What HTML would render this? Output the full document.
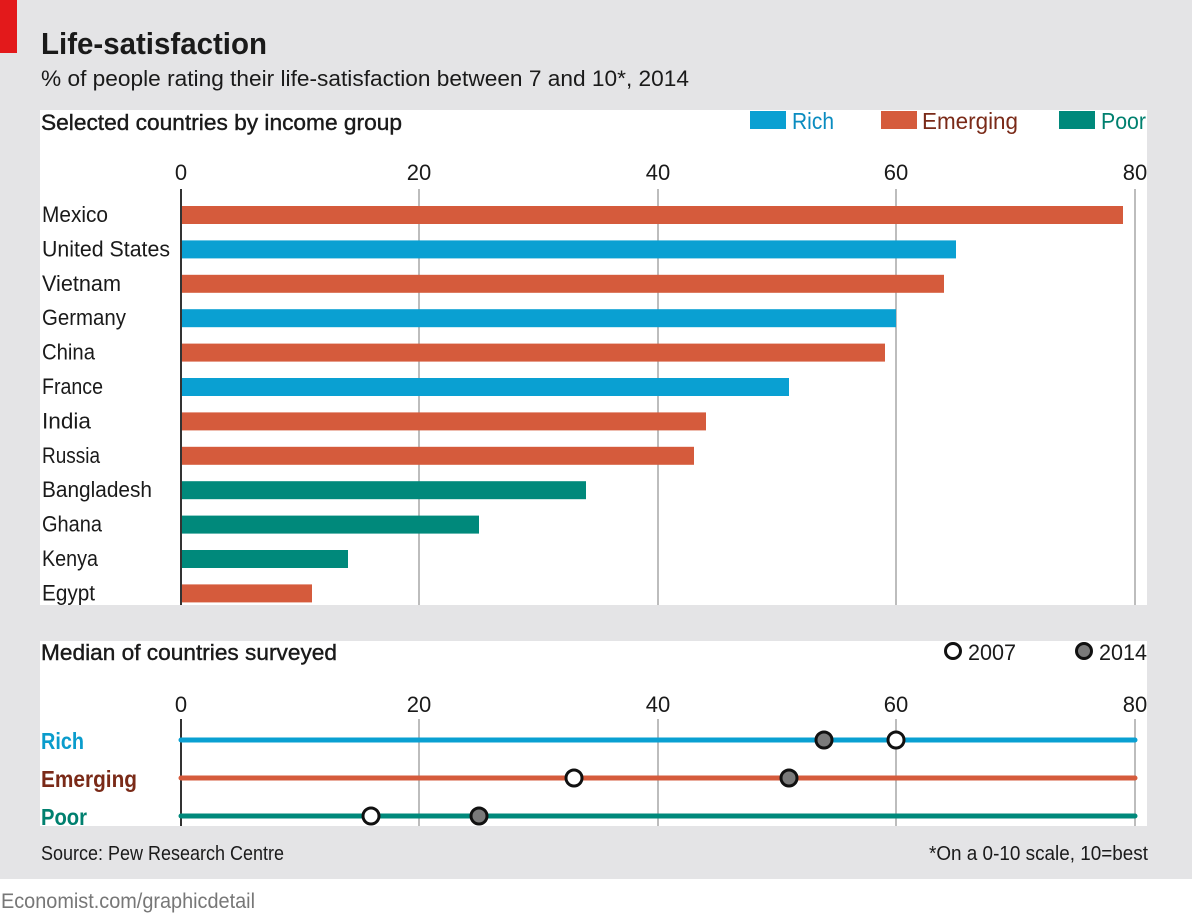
<!DOCTYPE html>
<html><head><meta charset="utf-8"><style>
html,body{margin:0;padding:0;background:#fff;}
svg{display:block;font-family:"Liberation Sans",sans-serif;}
</style></head><body>
<svg width="1192" height="916" viewBox="0 0 1192 916" xmlns="http://www.w3.org/2000/svg">
<rect x="0" y="0" width="1192" height="879" fill="#e4e4e6"/>
<rect x="0" y="0" width="17" height="53" fill="#e3191b"/>
<text x="41" y="54" font-size="31" font-weight="bold" fill="#1a1a1a" textLength="226" lengthAdjust="spacingAndGlyphs">Life-satisfaction</text>
<text x="41" y="86" font-size="22" fill="#1a1a1a" textLength="648" lengthAdjust="spacingAndGlyphs">% of people rating their life-satisfaction between 7 and 10*, 2014</text>
<rect x="40" y="110" width="1107" height="495" fill="#fff"/>
<text x="41" y="130" font-size="22" fill="#1a1a1a" stroke="#1a1a1a" stroke-width="0.4" textLength="361" lengthAdjust="spacingAndGlyphs">Selected countries by income group</text>
<rect x="750" y="111" width="36" height="18" fill="#0aa0d2"/>
<text x="792" y="129" font-size="23" fill="#0a8cc0" textLength="42" lengthAdjust="spacingAndGlyphs">Rich</text>
<rect x="881" y="111" width="36" height="18" fill="#d55b3c"/>
<text x="922" y="129" font-size="23" fill="#7a2a18" textLength="96" lengthAdjust="spacingAndGlyphs">Emerging</text>
<rect x="1059" y="111" width="36" height="18" fill="#00897b"/>
<text x="1101" y="129" font-size="23" fill="#00806f" textLength="45" lengthAdjust="spacingAndGlyphs">Poor</text>
<g font-size="22" fill="#1a1a1a" text-anchor="middle">
<text x="181" y="180">0</text><text x="419" y="180">20</text><text x="658" y="180">40</text><text x="896" y="180">60</text><text x="1135" y="180">80</text>
</g>
<g stroke="#bdbdbd" stroke-width="2">
<line x1="419" y1="189" x2="419" y2="605"/><line x1="658" y1="189" x2="658" y2="605"/><line x1="896" y1="189" x2="896" y2="605"/><line x1="1135" y1="189" x2="1135" y2="605"/>
</g>
<g>
<rect x="181" y="206" width="942" height="18" fill="#d55b3c"/>
<rect x="181" y="240.4" width="775" height="18" fill="#0aa0d2"/>
<rect x="181" y="274.8" width="763" height="18" fill="#d55b3c"/>
<rect x="181" y="309.2" width="715" height="18" fill="#0aa0d2"/>
<rect x="181" y="343.6" width="704" height="18" fill="#d55b3c"/>
<rect x="181" y="378" width="608" height="18" fill="#0aa0d2"/>
<rect x="181" y="412.4" width="525" height="18" fill="#d55b3c"/>
<rect x="181" y="446.8" width="513" height="18" fill="#d55b3c"/>
<rect x="181" y="481.2" width="405" height="18" fill="#00897b"/>
<rect x="181" y="515.6" width="298" height="18" fill="#00897b"/>
<rect x="181" y="550" width="167" height="18" fill="#00897b"/>
<rect x="181" y="584.4" width="131" height="18" fill="#d55b3c"/>
</g>
<line x1="181" y1="189" x2="181" y2="605" stroke="#333" stroke-width="2"/>
<g font-size="22" fill="#1a1a1a">
<text x="42" y="222" textLength="66" lengthAdjust="spacingAndGlyphs">Mexico</text>
<text x="42" y="256.4" textLength="128" lengthAdjust="spacingAndGlyphs">United States</text>
<text x="42" y="290.8" textLength="79" lengthAdjust="spacingAndGlyphs">Vietnam</text>
<text x="42" y="325.2" textLength="84" lengthAdjust="spacingAndGlyphs">Germany</text>
<text x="42" y="359.6" textLength="53" lengthAdjust="spacingAndGlyphs">China</text>
<text x="42" y="394" textLength="61" lengthAdjust="spacingAndGlyphs">France</text>
<text x="42" y="428.4" textLength="49" lengthAdjust="spacingAndGlyphs">India</text>
<text x="42" y="462.8" textLength="58" lengthAdjust="spacingAndGlyphs">Russia</text>
<text x="42" y="497.2" textLength="110" lengthAdjust="spacingAndGlyphs">Bangladesh</text>
<text x="42" y="531.6" textLength="60" lengthAdjust="spacingAndGlyphs">Ghana</text>
<text x="42" y="566" textLength="56" lengthAdjust="spacingAndGlyphs">Kenya</text>
<text x="42" y="600.4" textLength="53" lengthAdjust="spacingAndGlyphs">Egypt</text>
</g>
<rect x="40" y="641" width="1107" height="185" fill="#fff"/>
<text x="41" y="660" font-size="22" fill="#1a1a1a" stroke="#1a1a1a" stroke-width="0.4" textLength="296" lengthAdjust="spacingAndGlyphs">Median of countries surveyed</text>
<circle cx="953" cy="651" r="7.5" fill="#fff" stroke="#111" stroke-width="3"/>
<text x="968" y="660" font-size="22" fill="#1a1a1a" textLength="48" lengthAdjust="spacingAndGlyphs">2007</text>
<circle cx="1084" cy="651" r="7.5" fill="#7a7a7a" stroke="#111" stroke-width="3"/>
<text x="1099" y="660" font-size="22" fill="#1a1a1a" textLength="48" lengthAdjust="spacingAndGlyphs">2014</text>
<g font-size="22" fill="#1a1a1a" text-anchor="middle">
<text x="181" y="712">0</text><text x="419" y="712">20</text><text x="658" y="712">40</text><text x="896" y="712">60</text><text x="1135" y="712">80</text>
</g>
<g stroke="#bdbdbd" stroke-width="2">
<line x1="419" y1="719" x2="419" y2="826"/><line x1="658" y1="719" x2="658" y2="826"/><line x1="896" y1="719" x2="896" y2="826"/><line x1="1135" y1="719" x2="1135" y2="826"/>
</g>
<line x1="181" y1="719" x2="181" y2="826" stroke="#333" stroke-width="2"/>
<g stroke-width="5" stroke-linecap="round">
<line x1="181" y1="740" x2="1135" y2="740" stroke="#0aa0d2"/>
<line x1="181" y1="778" x2="1135" y2="778" stroke="#d55b3c"/>
<line x1="181" y1="816" x2="1135" y2="816" stroke="#00897b"/>
</g>
<g stroke="#111" stroke-width="3">
<circle cx="824" cy="740" r="8" fill="#7a7a7a"/>
<circle cx="896" cy="740" r="8" fill="#fff"/>
<circle cx="574" cy="778" r="8" fill="#fff"/>
<circle cx="789" cy="778" r="8" fill="#7a7a7a"/>
<circle cx="371" cy="816" r="8" fill="#fff"/>
<circle cx="479" cy="816" r="8" fill="#7a7a7a"/>
</g>
<text x="41" y="749" font-size="23" font-weight="bold" fill="#0a9ccc" textLength="43" lengthAdjust="spacingAndGlyphs">Rich</text>
<text x="41" y="787" font-size="23" font-weight="bold" fill="#7a2a18" textLength="96" lengthAdjust="spacingAndGlyphs">Emerging</text>
<text x="41" y="825" font-size="23" font-weight="bold" fill="#00806f" textLength="46" lengthAdjust="spacingAndGlyphs">Poor</text>
<text x="41" y="860" font-size="20" fill="#1a1a1a" textLength="243" lengthAdjust="spacingAndGlyphs">Source: Pew Research Centre</text>
<text x="1148" y="860" font-size="20" fill="#1a1a1a" text-anchor="end" textLength="219" lengthAdjust="spacingAndGlyphs">*On a 0-10 scale, 10=best</text>
<text x="1" y="908" font-size="21" fill="#777" textLength="254" lengthAdjust="spacingAndGlyphs">Economist.com/graphicdetail</text>
</svg>
</body></html>
